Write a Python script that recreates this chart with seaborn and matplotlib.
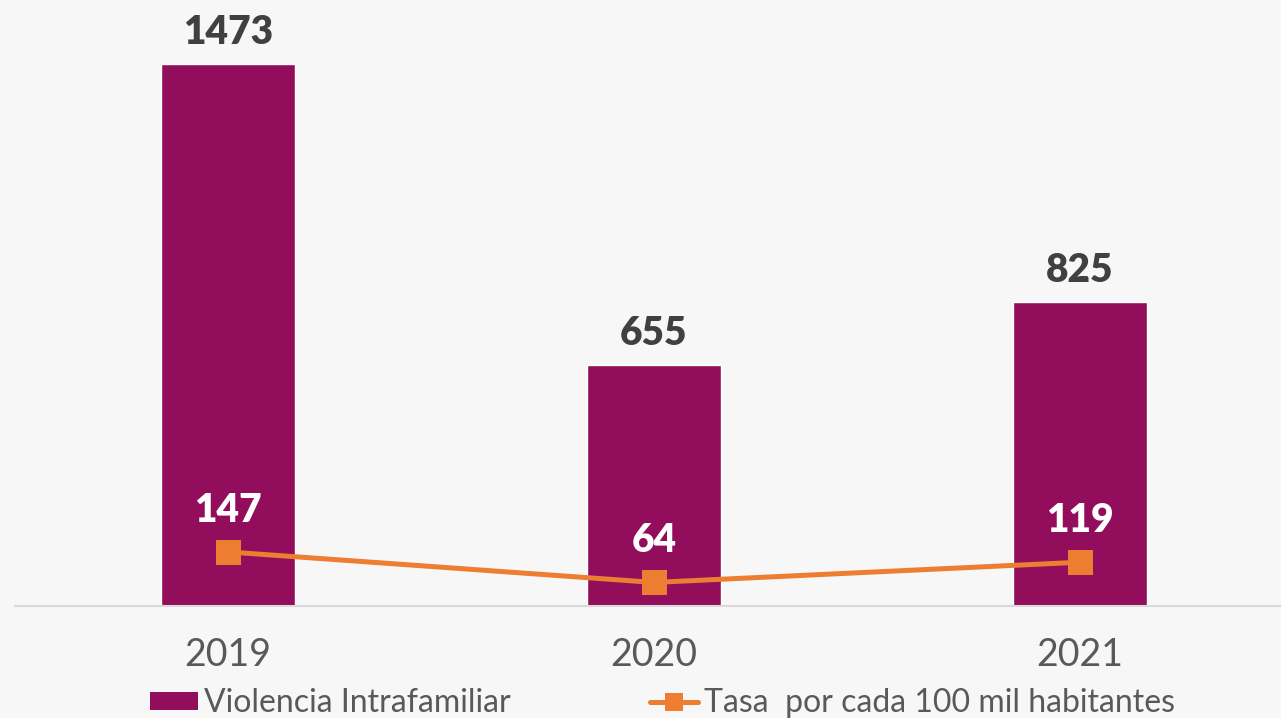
import matplotlib
matplotlib.use("Agg")
import matplotlib.pyplot as plt
import seaborn as sns
import pandas as pd
from matplotlib.lines import Line2D
from matplotlib.patches import Patch

years = ["2019", "2020", "2021"]
casos = [1473, 655, 825]
tasa = [147, 64, 119]

BAR = "#920D5B"
LINE = "#ED7D31"
BG = "#F7F7F7"
TXT = "#404040"

sns.set_theme(style="white")
plt.rcParams["font.family"] = ["Lato", "DejaVu Sans"]

df = pd.DataFrame({"anio": years, "casos": casos, "tasa": tasa})

fig = plt.figure(figsize=(12.81, 7.18), dpi=100, facecolor=BG)
ax = fig.add_axes([15 / 1281, 112 / 718, 1266 / 1281, 606 / 718])
ax.set_facecolor(BG)

sns.barplot(data=df, x="anio", y="casos", color=BAR, width=0.315,
            saturation=1, ax=ax)
sns.lineplot(x=list(range(len(years))), y=tasa, color=LINE, linewidth=3.6,
             marker="s", markersize=18, markeredgewidth=0, ax=ax)

ax.set_xlim(-0.5, 2.472)
ax.set_ylim(0, 1647)

for i, v in enumerate(casos):
    ax.annotate(str(v), (i, v), xytext=(0, 23), textcoords="offset points",
                ha="center", va="center", fontsize=28, fontweight="heavy",
                color=TXT)
for i, v in enumerate(tasa):
    ax.annotate(str(v), (i, v), xytext=(0, 30), textcoords="offset points",
                ha="center", va="center", fontsize=28, fontweight="heavy",
                color="white")

ax.set_xlabel("")
ax.set_ylabel("")
ax.set_yticks([])
ax.tick_params(axis="x", length=0, pad=22, labelsize=27, labelcolor="#595959")
for s in ["top", "right", "left"]:
    ax.spines[s].set_visible(False)
ax.spines["bottom"].set_color("#D9D9D9")
ax.spines["bottom"].set_linewidth(1.5)

handles = [
    Patch(facecolor=BAR, edgecolor="none"),
    Line2D([0], [0], color=LINE, linewidth=3.6, marker="s", markersize=13,
           markeredgewidth=0),
]
labels = ["Violencia Intrafamiliar", "Tasa  por cada 100 mil habitantes"]
leg = fig.legend(handles, labels, loc="center left",
                 bbox_to_anchor=(150 / 1281, 15 / 718), ncol=2, frameon=False,
                 fontsize=23, handlelength=1.5, handleheight=0.5,
                 handletextpad=0.2, columnspacing=4.35, labelcolor="#595959",
                 borderaxespad=0, borderpad=0)

fig.savefig("out.png", dpi=100, facecolor=BG)
